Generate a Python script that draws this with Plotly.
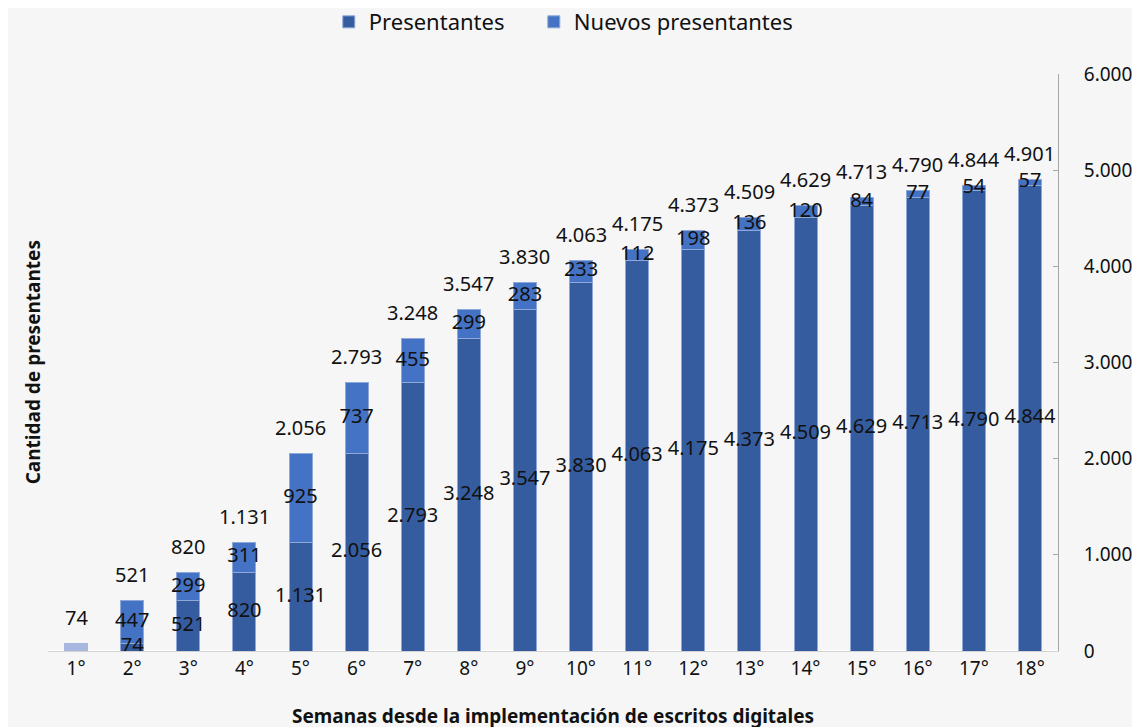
import plotly.graph_objects as go

semanas = ["1°", "2°", "3°", "4°", "5°", "6°", "7°", "8°", "9°", "10°",
           "11°", "12°", "13°", "14°", "15°", "16°", "17°", "18°"]
presentantes = [0, 74, 521, 820, 1131, 2056, 2793, 3248, 3547, 3830,
                4063, 4175, 4373, 4509, 4629, 4713, 4790, 4844]
nuevos = [74, 447, 299, 311, 925, 737, 455, 299, 283, 233,
          112, 198, 136, 120, 84, 77, 54, 57]
totales = [p + n for p, n in zip(presentantes, nuevos)]

C_PRES = "#365CA0"
C_NUEV = "#4472C4"
C_PRIMERA = "#A8B7E0"
C_EDGE = "#8FA8D8"

def fmt(v):
    return f"{v:,}".replace(",", ".")

FONT = "Noto Sans"
LBL = 20
fig = go.Figure()
fig.add_trace(go.Bar(x=semanas, y=presentantes, name="Presentantes", legend="legend",
                     marker=dict(color=C_PRES, line=dict(width=1, color=C_EDGE))))
nuevos_main = [None] + nuevos[1:]
fig.add_trace(go.Bar(x=semanas, y=nuevos_main, name="Nuevos presentantes", legend="legend2",
                     marker=dict(color=C_NUEV, line=dict(width=1, color=C_EDGE))))
fig.add_trace(go.Bar(x=semanas[:1], y=nuevos[:1], name="Nuevos presentantes",
                     showlegend=False,
                     marker=dict(color=C_PRIMERA, line=dict(width=1, color=C_PRIMERA))))

# etiquetas de segmentos
pres_lbl = [fmt(p) if p > 0 else "" for p in presentantes]
fig.add_trace(go.Scatter(x=semanas, y=[p / 2 for p in presentantes], mode="text",
                         text=pres_lbl, textposition="middle center",
                         textfont=dict(family=FONT, size=LBL, color="#111111"),
                         showlegend=False, hoverinfo="skip"))
nuev_lbl = ["" if p == 0 else fmt(n) for p, n in zip(presentantes, nuevos)]
fig.add_trace(go.Scatter(x=semanas, y=[p + n / 2 for p, n in zip(presentantes, nuevos)],
                         mode="text", text=nuev_lbl, textposition="middle center",
                         textfont=dict(family=FONT, size=LBL, color="#111111"),
                         showlegend=False, hoverinfo="skip"))

annotations = [dict(x=s, y=t, text=fmt(t), showarrow=False, xanchor="center",
                    yanchor="middle", yshift=26,
                    font=dict(family=FONT, size=LBL, color="#111111"))
               for s, t in zip(semanas, totales)]
annotations.append(dict(text="<b>Cantidad de presentantes</b>", textangle=-90,
                        xref="paper", yref="paper", x=-0.015, y=0.5, xanchor="center",
                        yanchor="middle", showarrow=False,
                        font=dict(family=FONT, size=19, color="#111111")))

leg_common = dict(orientation="h", xanchor="left", y=1.09, yref="paper",
                  yanchor="middle", font=dict(size=22), itemwidth=30,
                  bgcolor="rgba(0,0,0,0)")

fig.update_layout(
    width=1140, height=727,
    barmode="stack", bargap=0.59,
    paper_bgcolor="#F6F6F6", plot_bgcolor="#F6F6F6",
    margin=dict(l=40, r=90, t=66, b=84, autoexpand=False),
    font=dict(family=FONT, size=19, color="#111111"),
    legend=dict(x=0.278, **leg_common),
    legend2=dict(x=0.481, **leg_common),
    xaxis=dict(showgrid=False, showline=True, linecolor="#D2D2D2", linewidth=1,
               ticks="", tickfont=dict(size=19), automargin=False,
               range=[-0.5, len(semanas) - 0.5],
               title=dict(text="<b>Semanas desde la implementación de escritos digitales</b>",
                          font=dict(size=19), standoff=29)),
    yaxis=dict(side="right", range=[0, 6000], showgrid=False, automargin=False,
               showline=True, linecolor="#A6A6A6", linewidth=1,
               ticks="inside", ticklen=5, tickcolor="#A6A6A6",
               tickfont=dict(size=19), ticklabelstandoff=21,
               tickvals=[0, 1000, 2000, 3000, 4000, 5000, 6000],
               ticktext=["0", "1.000", "2.000", "3.000", "4.000", "5.000", "6.000"]),
    annotations=annotations,
)

fig.write_html("out.html")
